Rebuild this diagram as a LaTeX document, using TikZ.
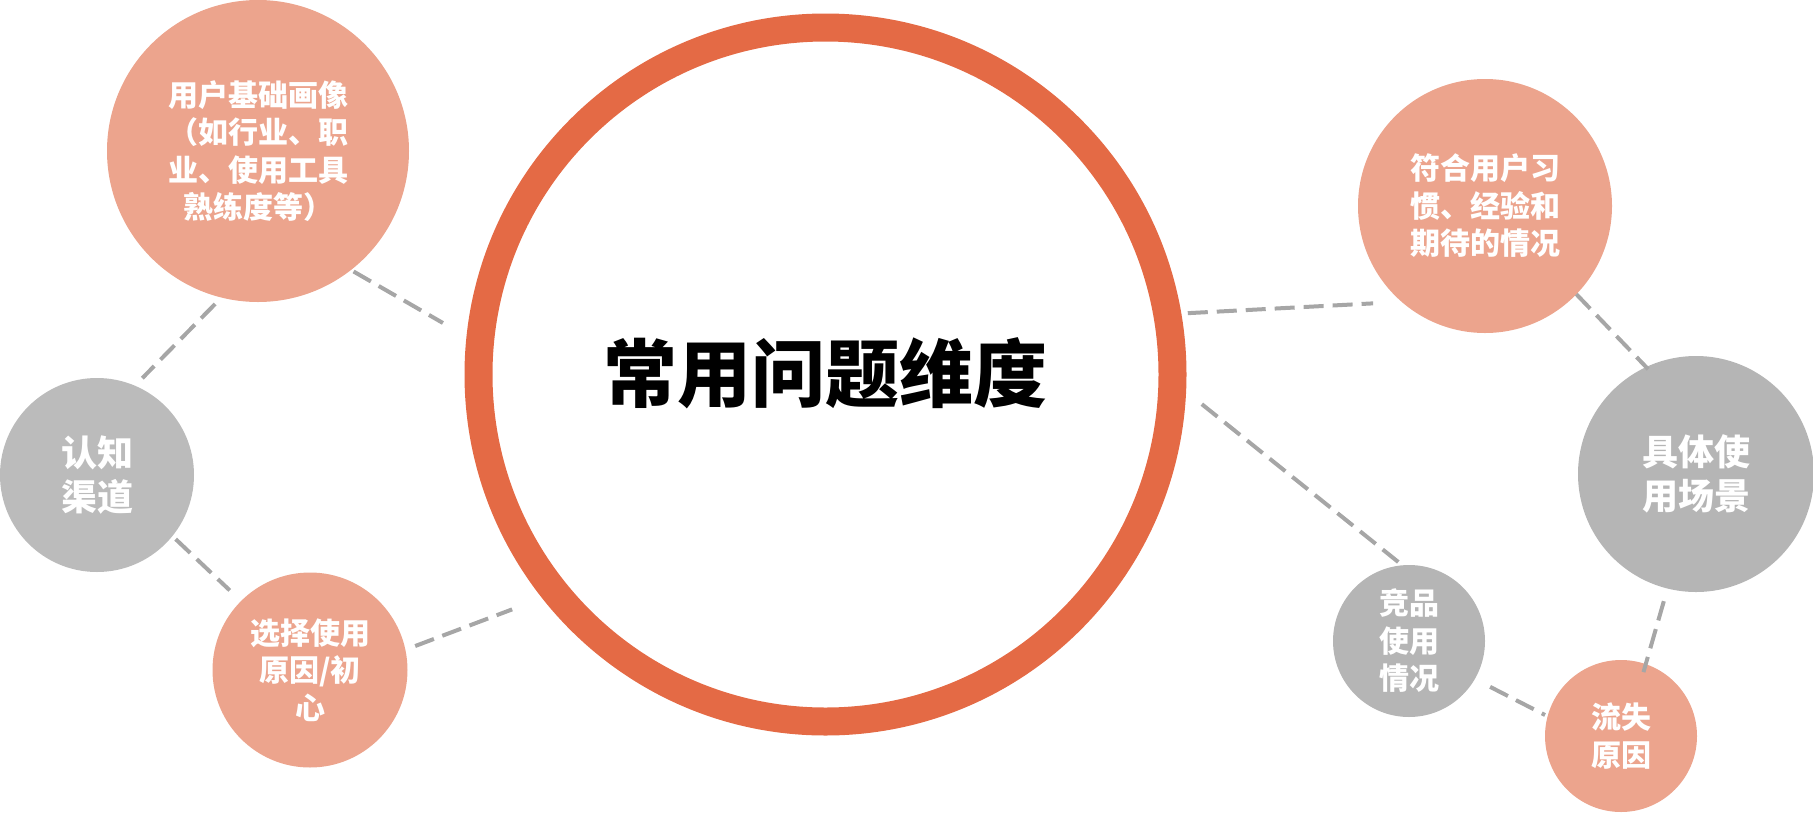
\documentclass[tikz,border=0pt]{standalone}
\usepackage{fontspec}
\newfontfamily\cjk{Noto Sans CJK SC}
\definecolor{ringc}{HTML}{E46A45}
\definecolor{salmonc}{HTML}{ECA48D}
\definecolor{greyl}{HTML}{BBBBBB}
\definecolor{greyr}{HTML}{B5B5B5}
\definecolor{linkc}{HTML}{A6A6A6}
\begin{document}
\begin{tikzpicture}[x=1pt,y=-1pt,
  bubble/.style={circle, inner sep=0pt, outer sep=0pt, text=white, align=center,
    font=\cjk\bfseries\fontsize{30pt}{37.5pt}\selectfont},
  salmonb/.style={bubble, fill=salmonc},
  greylb/.style={bubble, fill=greyl},
  greyrb/.style={bubble, fill=greyr},
  bigtext/.style={font=\cjk\bfseries\fontsize{36pt}{44pt}\selectfont},
  core/.style={circle, inner sep=0pt, outer sep=0pt, draw=ringc, line width=28pt,
    minimum size=694pt, text=black, font=\cjk\bfseries\fontsize{74pt}{80pt}\selectfont},
  link/.style={draw=linkc, line width=4pt, dash pattern=on 20pt off 9pt}]
\useasboundingbox (0,0) rectangle (1813,812);

\node[core] (core) at (825.5,374.5) {\raisebox{9pt}{常用问题维度}};

\node[salmonb, minimum size=302pt] (user) at (258,151) {用户基础画像\\（如行业、职\\业、使用工具\\熟练度等）};
\node[greylb, bigtext, minimum size=194pt, align=center] (cogn) at (97,475) {认知\\渠道};
\node[salmonb, minimum size=195pt] (choice) at (310,670) {选择使用\\原因/初\\心};

\node[salmonb, minimum size=254pt] (habit) at (1485,206) {符合用户习\\惯、经验和\\期待的情况};
\node[greyrb, bigtext, minimum size=236pt, align=center] (scene) at (1696,474) {具体使\\用场景};
\node[greyrb, minimum size=152pt] (comp) at (1409,641) {竞品\\使用\\情况};
\node[salmonb, minimum size=152pt] (loss) at (1621,736) {流失\\原因};

\draw[link, shorten <=9pt, shorten >=10.6pt] (user.-104) -- (cogn.67);
\draw[link, shorten <=3pt, shorten >=42.6pt] (user.-52.3) -- (core.175.6);
\draw[link, shorten <=4.5pt, shorten >=15.6pt] (cogn.-39.6) -- (choice.135.6);
\draw[link, shorten <=10.5pt, shorten >=46.7pt] (choice.12.6) -- (core.-141);
\draw[link, shorten <=20.6pt, shorten >=28.6pt] (core.10.75) -- (habit.-131.6);
\draw[link, shorten >=-3pt] (habit.-44) -- (scene.115);
\draw[link, shorten <=37.7pt, shorten >=2.2pt] (core.-1.9) -- (comp.95.5);
\draw[link, shorten <=17.2pt, shorten >=2.9pt] (comp.-30.2) -- (loss.165);
\draw[link, shorten <=13.2pt, shorten >=-8.3pt] (scene.-104.4) -- (loss.71.4);
\end{tikzpicture}
\end{document}
